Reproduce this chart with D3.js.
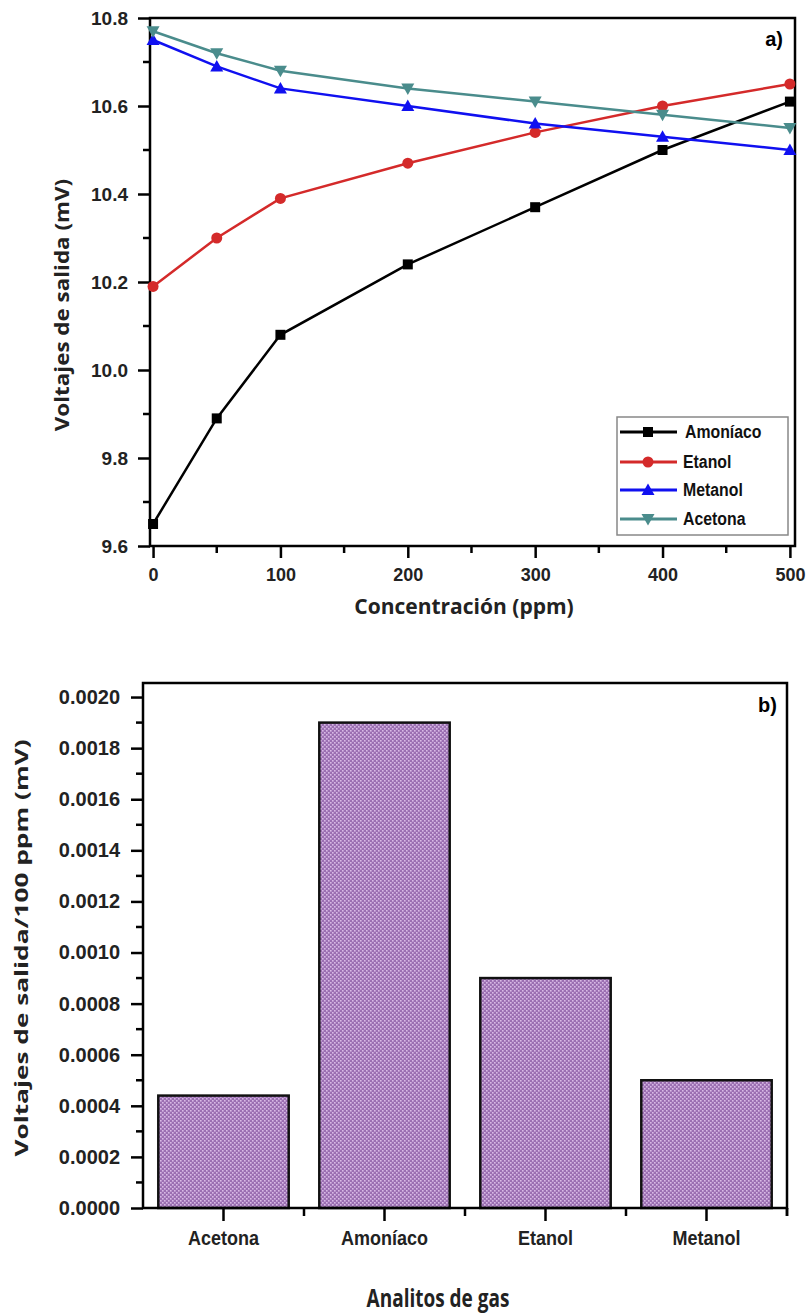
<!DOCTYPE html>
<html><head><meta charset="utf-8">
<script src="https://cdn.jsdelivr.net/npm/d3@7"></script>
<style>
html,body{margin:0;padding:0;background:#fff;}
svg{display:block;}
</style></head>
<body>
<script>
// ---- Data (panel a) ----
const concentrations = [0, 50, 100, 200, 300, 400, 500];
const amoniaco = [9.65, 9.89, 10.08, 10.24, 10.37, 10.50, 10.61];
const etanol   = [10.19, 10.30, 10.39, 10.47, 10.54, 10.60, 10.65];
const metanol  = [10.75, 10.69, 10.64, 10.60, 10.56, 10.53, 10.50];
const acetona  = [10.77, 10.72, 10.68, 10.64, 10.61, 10.58, 10.55];
const legendNames = ["Amoníaco", "Etanol", "Metanol", "Acetona"];
const yTicksA = [9.6, 9.8, 10.0, 10.2, 10.4, 10.6, 10.8];
const xTicksA = [0, 100, 200, 300, 400, 500];
// ---- Data (panel b) ----
const gases = ["Acetona", "Amoníaco", "Etanol", "Metanol"];
const sensitivity = [0.00044, 0.0019, 0.0009, 0.0005];
const yTicksB = [0, 0.0002, 0.0004, 0.0006, 0.0008, 0.0010, 0.0012, 0.0014, 0.0016, 0.0018, 0.0020];

const W = 808, H = 1313;
const svg = d3.select("body").append("svg").attr("width", W).attr("height", H);

const tickFont = "'Liberation Sans', Arial, sans-serif";
const titleFont = "'Open Sans', 'Liberation Sans', sans-serif";

// ================= Panel a =================
const A = {l: 150, r: 795, t: 18, b: 546};
const xA = d3.scaleLinear().domain([-2.4, 504]).range([A.l, A.r]);
const yA = d3.scaleLinear().domain([9.6, 10.8]).range([A.b, A.t]);

const gA = svg.append("g");
gA.append("rect").attr("x", A.l).attr("y", A.t).attr("width", A.r - A.l).attr("height", A.b - A.t)
  .attr("fill", "none").attr("stroke", "#000").attr("stroke-width", 2.5);

const yMinorA = d3.range(9.7, 10.8, 0.2);
const xMinorA = [50, 150, 250, 350, 450];
gA.selectAll(".ymin").data(yMinorA).join("line")
  .attr("x1", A.l - 7).attr("x2", A.l).attr("y1", d => yA(d)).attr("y2", d => yA(d))
  .attr("stroke", "#000").attr("stroke-width", 2.5);
gA.selectAll(".xmin").data(xMinorA).join("line")
  .attr("y1", A.b).attr("y2", A.b + 7).attr("x1", d => xA(d)).attr("x2", d => xA(d))
  .attr("stroke", "#000").attr("stroke-width", 2.5);

const axYA = gA.append("g").attr("transform", `translate(${A.l},0)`)
  .call(d3.axisLeft(yA).tickValues(yTicksA).tickSize(12).tickPadding(10).tickFormat(d3.format(".1f")));
const axXA = gA.append("g").attr("transform", `translate(0,${A.b})`)
  .call(d3.axisBottom(xA).tickValues(xTicksA).tickSize(12).tickPadding(10).tickFormat(d3.format("d")));
[axYA, axXA].forEach(ax => {
  ax.select(".domain").remove();
  ax.selectAll(".tick line").attr("stroke-width", 2.5);
  ax.selectAll(".tick text").attr("font-family", tickFont).attr("font-weight", "bold")
    .attr("font-size", 19).attr("fill", "#222");
});
axXA.selectAll(".tick text").attr("font-size", 18);

const colors = ["#000000", "#d42a2a", "#1010f0", "#4a8c8c"];
const series = [amoniaco, etanol, metanol, acetona];
const line = d3.line().x((d, i) => xA(concentrations[i])).y(d => yA(d));

function marker(g, k, x, y) {
  const c = colors[k];
  if (k === 0) {
    g.append("rect").attr("x", x - 5).attr("y", y - 5).attr("width", 10).attr("height", 10).attr("fill", c);
  } else if (k === 1) {
    g.append("circle").attr("cx", x).attr("cy", y).attr("r", 5.5).attr("fill", c);
  } else if (k === 2) {
    g.append("path").attr("d", `M${x},${y - 6.5}L${x + 6.5},${y + 5}L${x - 6.5},${y + 5}Z`).attr("fill", c);
  } else {
    g.append("path").attr("d", `M${x},${y + 6.5}L${x + 6.5},${y - 5}L${x - 6.5},${y - 5}Z`).attr("fill", c);
  }
}

series.forEach((s, k) => {
  gA.append("path").datum(s).attr("d", line).attr("fill", "none")
    .attr("stroke", colors[k]).attr("stroke-width", 2.5);
});
series.forEach((s, k) => {
  s.forEach((v, i) => marker(gA, k, xA(concentrations[i]), yA(v)));
});

// legend
const lg = gA.append("g");
lg.append("rect").attr("x", 617).attr("y", 417).attr("width", 171).attr("height", 118)
  .attr("fill", "#fff").attr("stroke", "#888").attr("stroke-width", 1.5);
const rowY = [432, 462, 490, 519];
legendNames.forEach((n, k) => {
  lg.append("line").attr("x1", 620).attr("x2", 677).attr("y1", rowY[k]).attr("y2", rowY[k])
    .attr("stroke", colors[k]).attr("stroke-width", 3);
  marker(lg, k, 648, rowY[k]);
  lg.append("text").attr("transform", `translate(${k === 0 ? 685 : 683},${rowY[k] + 6}) scale(0.88,1.05)`)
    .attr("font-family", tickFont).attr("font-weight", "bold").attr("font-size", 18)
    .attr("fill", "#111").text(n);
});

gA.append("text").attr("x", 783).attr("y", 46).attr("text-anchor", "end")
  .attr("font-family", tickFont).attr("font-weight", "bold").attr("font-size", 20).text("a)");

svg.append("text").attr("x", 464).attr("y", 614).attr("text-anchor", "middle")
  .attr("font-family", titleFont).attr("font-weight", "bold").attr("font-size", 21)
  .attr("fill", "#222").text("Concentración (ppm)");
svg.append("text").attr("transform", "translate(69,305) rotate(-90) scale(1.18,1)").attr("text-anchor", "middle")
  .attr("font-family", titleFont).attr("font-weight", "bold").attr("font-size", 19)
  .attr("fill", "#222").text("Voltajes de salida (mV)");

// ================= Panel b =================
const B = {l: 143, r: 787, t: 683, b: 1208};
const yB = d3.scaleLinear().domain([0, 0.002055]).range([B.b, B.t]);
const xB = d3.scaleBand().domain(gases).range([B.l, B.r]).paddingInner(0.19).paddingOuter(0.095);
const bandStep = xB.step();

const defs = svg.append("defs");
const pat = defs.append("pattern").attr("id", "dots").attr("patternUnits", "userSpaceOnUse")
  .attr("width", 4).attr("height", 4);
pat.append("rect").attr("width", 4).attr("height", 4).attr("fill", "#9b6fb2");
pat.append("rect").attr("x", 0).attr("y", 0).attr("width", 1.6).attr("height", 1.6).attr("fill", "#d8b9e6");
pat.append("rect").attr("x", 2).attr("y", 2).attr("width", 1.6).attr("height", 1.6).attr("fill", "#d8b9e6");

const gB = svg.append("g");
gB.selectAll(".bar").data(gases).join("rect")
  .attr("x", d => xB(d)).attr("width", xB.bandwidth())
  .attr("y", (d, i) => yB(sensitivity[i])).attr("height", (d, i) => B.b - yB(sensitivity[i]))
  .attr("fill", "url(#dots)").attr("stroke", "#111").attr("stroke-width", 2.5);

gB.append("rect").attr("x", B.l).attr("y", B.t).attr("width", B.r - B.l).attr("height", B.b - B.t)
  .attr("fill", "none").attr("stroke", "#000").attr("stroke-width", 2.5);

const yMinorB = d3.range(0.0001, 0.002, 0.0002);
gB.selectAll(".ymb").data(yMinorB).join("line")
  .attr("x1", B.l - 7).attr("x2", B.l).attr("y1", d => yB(d)).attr("y2", d => yB(d))
  .attr("stroke", "#000").attr("stroke-width", 2.5);
const xMinorB = gases.map(g => xB(g) - xB.step() * xB.paddingInner() / 2 + bandStep).concat([B.r]);
gB.selectAll(".xmb").data(xMinorB).join("line")
  .attr("x1", d => d).attr("x2", d => d).attr("y1", B.b).attr("y2", B.b + 8)
  .attr("stroke", "#000").attr("stroke-width", 2.5);

const axYB = gB.append("g").attr("transform", `translate(${B.l},0)`)
  .call(d3.axisLeft(yB).tickValues(yTicksB).tickSize(12).tickPadding(11).tickFormat(d3.format(".4f")));
const axXB = gB.append("g").attr("transform", `translate(0,${B.b})`)
  .call(d3.axisBottom(xB).tickSize(13).tickPadding(10));
[axYB, axXB].forEach(ax => {
  ax.select(".domain").remove();
  ax.selectAll(".tick line").attr("stroke-width", 2.5);
  ax.selectAll(".tick text").attr("font-family", tickFont).attr("font-weight", "bold")
    .attr("font-size", 20).attr("fill", "#222");
});
axXB.selectAll(".tick text").attr("font-size", 18).attr("y", 0).attr("dy", 0).attr("x", 0)
  .attr("transform", "translate(0,37) scale(1,1.15)");

gB.append("text").attr("x", 777).attr("y", 712).attr("text-anchor", "end")
  .attr("font-family", tickFont).attr("font-weight", "bold").attr("font-size", 20).text("b)");

svg.append("text").attr("transform", "translate(438,1307) scale(1,1.3)").attr("text-anchor", "middle")
  .attr("font-family", titleFont).attr("font-weight", "bold").attr("font-size", 19)
  .attr("fill", "#222").text("Analitos de gas");
svg.append("text").attr("transform", "translate(28,948) rotate(-90) scale(1.5,1)").attr("text-anchor", "middle")
  .attr("font-family", titleFont).attr("font-weight", "bold").attr("font-size", 17.5)
  .attr("fill", "#222").text("Voltajes de salida/100 ppm (mV)");
</script>
</body></html>
